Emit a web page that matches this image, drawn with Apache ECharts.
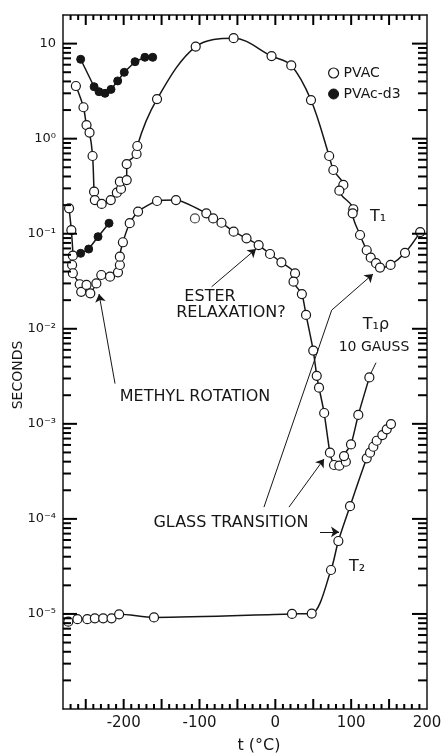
<!DOCTYPE html>
<html>
<head>
<meta charset="utf-8">
<script src="https://cdn.jsdelivr.net/npm/echarts@6/dist/echarts.min.js"></script>
<style>
  html, body { margin: 0; padding: 0; background: #fff; }
  #chart { width: 446px; height: 754px; }
</style>
</head>
<body>
<div id="chart"></div>
<script>
// T1, PVAc (open circles, upper curve)
const t1PvacTemp = [-263, -253, -249, -245, -241, -239, -238, -229, -217, -209, -203.5, -205, -196, -196, -183, -182, -156, -105, -55, -5, 21, 47, 71, 76.5, 89.7, 84.4, 102.8, 102, 111.7, 120.5, 125.8, 132.8, 138, 152, 171, 191];
const t1PvacSec  = [3.58, 2.14, 1.39, 1.16, 0.657, 0.277, 0.226, 0.206, 0.226, 0.27, 0.296, 0.353, 0.367, 0.541, 0.69, 0.837, 2.61, 9.3, 11.4, 7.4, 5.9, 2.55, 0.657, 0.468, 0.326, 0.284, 0.181, 0.164, 0.097, 0.067, 0.056, 0.049, 0.044, 0.047, 0.063, 0.104];

// T1, PVAc-d3 (filled circles)
const t1D3Temp = [-256.7, -239, -232.5, -224.6, -216.7, -207.9, -199.2, -185, -172, -161.7];
const t1D3Sec  = [6.84, 3.52, 3.12, 3.0, 3.3, 4.05, 4.99, 6.45, 7.18, 7.18];

// T1rho 10 gauss, PVAc (open circles, lower curve)
const t1rhoPvacTemp = [-272, -269, -267, -268, -267, -258, -256, -249, -244, -236, -229.5, -218, -207.5, -205, -205, -201, -192, -181, -156, -131, -91, -82, -71, -55, -38, -22, -7, 8, 26, 24, 35, 40.5, 50, 54.6, 57.6, 64.4, 72, 77.4, 84.4, 93, 90.6, 99.8, 109.4, 124];
const t1rhoPvacSec  = [0.185, 0.109, 0.0587, 0.0469, 0.0384, 0.0294, 0.0245, 0.0289, 0.0236, 0.030, 0.0368, 0.0353, 0.0393, 0.0469, 0.0573, 0.0813, 0.129, 0.171, 0.221, 0.226, 0.164, 0.145, 0.1305, 0.105, 0.0895, 0.076, 0.0612, 0.050, 0.0383, 0.0313, 0.0232, 0.014, 0.0059, 0.0032, 0.0024, 0.0013, 0.000497, 0.000369, 0.000363, 0.000399, 0.000458, 0.000608, 0.00124, 0.00308];

// single off-curve point
const t1rhoOffTemp = [-106];
const t1rhoOffSec  = [0.145];

// T1rho, PVAc-d3 (filled)
const t1rhoD3Temp = [-256.7, -246.1, -233.8, -219.3];
const t1rhoD3Sec  = [0.0622, 0.069, 0.0931, 0.129];

// T2, PVAc
const t2Temp = [-273, -261, -248, -238, -227, -216, -206, -160, 22, 48, 73.4, 83.1, 98.5, 120.5, 124.9, 129.2, 133.7, 141.1, 146.9, 152.5];
const t2Sec  = [8.3e-6, 8.8e-6, 8.8e-6, 9.0e-6, 9.0e-6, 9.0e-6, 9.9e-6, 9.2e-6, 1.0e-5, 1.01e-5, 2.9e-5, 5.85e-5, 1.36e-4, 4.34e-4, 4.97e-4, 5.74e-4, 6.64e-4, 7.62e-4, 8.75e-4, 9.95e-4];

// tick labels
const xTickValues = [-200, -100, 0, 100, 200];
const xTickLabels = ['-200', '-100', '0', '100', '200'];
const yDecades = [1, 0, -1, -2, -3, -4, -5];
const yTickLabels = ['10', '10\u2070', '10\u207B\u00B9', '10\u207B\u00B2', '10\u207B\u00B3', '10\u207B\u2074', '10\u207B\u2075'];

const X_MIN = -280, X_MAX = 200;
const Y_MIN = 1e-6, Y_MAX = 20;
const INK = '#161616';
const TICK = '#000';
const FONT = 'DejaVu Sans';

// log ticks: 1..9 per decade (1 = major), and 10-degree ticks (50 = major)
const yTicks = [];
for (let e = -5; e <= 1; e++) {
  for (let m = 1; m <= 9; m++) {
    const v = m * Math.pow(10, e);
    if (v < Y_MAX) yTicks.push([X_MIN, v, m === 1 ? 1 : 0]);
  }
}
for (let m = 2; m <= 9; m++) yTicks.push([X_MIN, m * Y_MIN, 0]);
const xTicks = [];
for (let v = X_MIN + 10; v < X_MAX; v += 10) xTicks.push([v, 1, v % 50 === 0 ? 1 : 0]);

const zip = (xs, ys) => xs.map((x, i) => [x, ys[i]]);

const openStyle = { color: '#fff', borderColor: INK, borderWidth: 1.2 };
const filledStyle = { color: INK, borderColor: INK, borderWidth: 1 };

function tickLine(x1, y1, x2, y2) {
  return { type: 'line', shape: { x1: x1, y1: y1, x2: x2, y2: y2 }, style: { stroke: TICK, lineWidth: 2 } };
}

function curve(name, xs, ys, filled, smooth, extra) {
  return Object.assign({
    name: name,
    type: 'line',
    data: zip(xs, ys),
    symbol: 'circle',
    symbolSize: filled ? 8 : 9,
    smooth: smooth,
    itemStyle: filled ? filledStyle : openStyle,
    lineStyle: { color: INK, width: 1.5 },
    z: 3
  }, extra || {});
}

const axisLine = () => ({ show: true, onZero: false, lineStyle: { color: INK, width: 1.5 } });

const chart = echarts.init(document.getElementById('chart'));

const option = {
  animation: false,
  backgroundColor: '#fff',
  grid: { left: 63, right: 19, top: 15, bottom: 45 },
  legend: {
    orient: 'vertical',
    left: 328, top: 66,
    itemWidth: 10, itemHeight: 10, itemGap: 7,
    icon: 'circle',
    padding: 0,
    selectedMode: false,
    textStyle: { fontFamily: FONT, fontSize: 14, color: INK },
    data: [
      { name: 'PVAC', itemStyle: { color: '#fff', borderColor: INK, borderWidth: 1.2 } },
      { name: 'PVAc-d3', itemStyle: { color: INK, borderColor: INK, borderWidth: 1 } }
    ]
  },
  xAxis: [{
    type: 'value', min: X_MIN, max: X_MAX, interval: 10,
    splitLine: { show: false },
    axisLine: axisLine(),
    axisTick: { show: false },
    axisLabel: {
      fontFamily: FONT, fontSize: 15, color: INK, margin: 7,
      formatter: v => { const i = xTickValues.indexOf(Math.round(v)); return i >= 0 ? xTickLabels[i] : ''; }
    }
  }, {
    type: 'value', position: 'top', min: X_MIN, max: X_MAX, interval: 10,
    splitLine: { show: false },
    axisLine: axisLine(),
    axisTick: { show: false },
    axisLabel: { show: false }
  }],
  yAxis: [{
    type: 'log', logBase: 10, min: Y_MIN, max: Y_MAX, position: 'left',
    splitLine: { show: false },
    axisLine: axisLine(),
    axisTick: { show: false },
    axisLabel: {
      fontFamily: FONT, fontSize: 13, color: INK, margin: 7,
      formatter: v => {
        const e = Math.log10(v);
        const r = Math.round(e);
        if (Math.abs(e - r) > 1e-6) return '';
        const i = yDecades.indexOf(r);
        return i >= 0 ? yTickLabels[i] : '';
      }
    }
  }, {
    type: 'log', logBase: 10, min: Y_MIN, max: Y_MAX, position: 'right',
    splitLine: { show: false },
    axisLine: axisLine(),
    axisTick: { show: false },
    axisLabel: { show: false }
  }],
  series: [
    curve('PVAC', t1PvacTemp, t1PvacSec, false, 0.35),
    curve('PVAc-d3', t1D3Temp, t1D3Sec, true, false),
    curve('PVAC', t1rhoPvacTemp, t1rhoPvacSec, false, 0.2),
    {
      name: 'PVAC', type: 'scatter', data: zip(t1rhoOffTemp, t1rhoOffSec),
      symbol: 'circle', symbolSize: 9, itemStyle: openStyle, z: 3
    },
    curve('PVAc-d3', t1rhoD3Temp, t1rhoD3Sec, true, false),
    curve('PVAC', t2Temp, t2Sec, false, 0.3, {
      markLine: {
        silent: true,
        symbol: ['none', 'arrow'],
        symbolSize: 8,
        label: { show: false },
        lineStyle: { color: INK, width: 1, type: 'solid' },
        emphasis: { disabled: true },
        data: [
          // ester relaxation
          [{ coord: [-84, 0.0277] }, { coord: [-25.5, 0.069] }],
          // methyl rotation
          [{ coord: [-211.4, 0.00265] }, { coord: [-232.5, 0.0232] }],
          // T1rho label leader
          [{ coord: [132.8, 0.0044] }, { coord: [125.5, 0.00334], symbol: 'none' }],
          // glass transition -> T1
          [{ coord: [-15, 1.33e-4] }, { coord: [74.3, 0.0157], symbol: 'none' }],
          [{ coord: [74.3, 0.0157] }, { coord: [128.8, 0.0377] }],
          // glass transition -> T1rho
          [{ coord: [18, 1.33e-4] }, { coord: [64.2, 4.27e-4] }],
          // glass transition -> T2
          [{ coord: [58.9, 7.3e-5] }, { coord: [84, 7.3e-5] }]
        ]
      }
    }),
    {
      // log ticks on left and right frame
      type: 'custom', coordinateSystem: 'cartesian2d', silent: true, clip: false, z: 5,
      data: yTicks,
      encode: { x: 0, y: 1 },
      renderItem: (params, api) => {
        const cs = params.coordSys;
        const y = api.coord([X_MIN, api.value(1)])[1];
        const major = api.value(2) === 1;
        const l = major ? 14 : 8;
        const r = major ? 15 : 9;
        return { type: 'group', children: [
          tickLine(cs.x, y, cs.x + l, y),
          tickLine(cs.x + cs.width, y, cs.x + cs.width - r, y)
        ] };
      }
    },
    {
      // temperature ticks on bottom and top frame
      type: 'custom', coordinateSystem: 'cartesian2d', silent: true, clip: false, z: 5,
      data: xTicks,
      encode: { x: 0, y: 1 },
      renderItem: (params, api) => {
        const cs = params.coordSys;
        const x = api.coord([api.value(0), 1])[0];
        const len = api.value(2) === 1 ? 10 : 5;
        return { type: 'group', children: [
          tickLine(x, cs.y + cs.height, x, cs.y + cs.height - len),
          tickLine(x, cs.y, x, cs.y + len)
        ] };
      }
    }
  ],
  graphic: [
    { type: 'text', x: 18, y: 375, rotation: Math.PI / 2,
      style: { text: 'SECONDS', fontFamily: FONT, fontSize: 14, fill: INK, align: 'center', verticalAlign: 'middle', textAlign: 'center', textVerticalAlign: 'middle' } },
    { type: 'text', x: 259, y: 746,
      style: { text: 't (°C)', fontFamily: FONT, fontSize: 16, fill: INK, align: 'center', verticalAlign: 'middle', textAlign: 'center', textVerticalAlign: 'middle' } },
    { type: 'text', x: 378, y: 217,
      style: { text: 'T\u2081', fontFamily: FONT, fontSize: 16, fill: INK, align: 'center', verticalAlign: 'middle', textAlign: 'center', textVerticalAlign: 'middle' } },
    { type: 'text', x: 210, y: 297,
      style: { text: 'ESTER', fontFamily: FONT, fontSize: 16, fill: INK, align: 'center', verticalAlign: 'middle', textAlign: 'center', textVerticalAlign: 'middle' } },
    { type: 'text', x: 231, y: 313,
      style: { text: 'RELAXATION?', fontFamily: FONT, fontSize: 16, fill: INK, align: 'center', verticalAlign: 'middle', textAlign: 'center', textVerticalAlign: 'middle' } },
    { type: 'text', x: 376, y: 325,
      style: { text: 'T\u2081\u03C1', fontFamily: FONT, fontSize: 16, fill: INK, align: 'center', verticalAlign: 'middle', textAlign: 'center', textVerticalAlign: 'middle' } },
    { type: 'text', x: 374, y: 347,
      style: { text: '10 GAUSS', fontFamily: FONT, fontSize: 14, fill: INK, align: 'center', verticalAlign: 'middle', textAlign: 'center', textVerticalAlign: 'middle' } },
    { type: 'text', x: 195, y: 397,
      style: { text: 'METHYL ROTATION', fontFamily: FONT, fontSize: 16, fill: INK, align: 'center', verticalAlign: 'middle', textAlign: 'center', textVerticalAlign: 'middle' } },
    { type: 'text', x: 231, y: 523,
      style: { text: 'GLASS TRANSITION', fontFamily: FONT, fontSize: 16, fill: INK, align: 'center', verticalAlign: 'middle', textAlign: 'center', textVerticalAlign: 'middle' } },
    { type: 'text', x: 357, y: 567,
      style: { text: 'T\u2082', fontFamily: FONT, fontSize: 16, fill: INK, align: 'center', verticalAlign: 'middle', textAlign: 'center', textVerticalAlign: 'middle' } }
  ]
};

chart.setOption(option);
</script>
</body>
</html>
